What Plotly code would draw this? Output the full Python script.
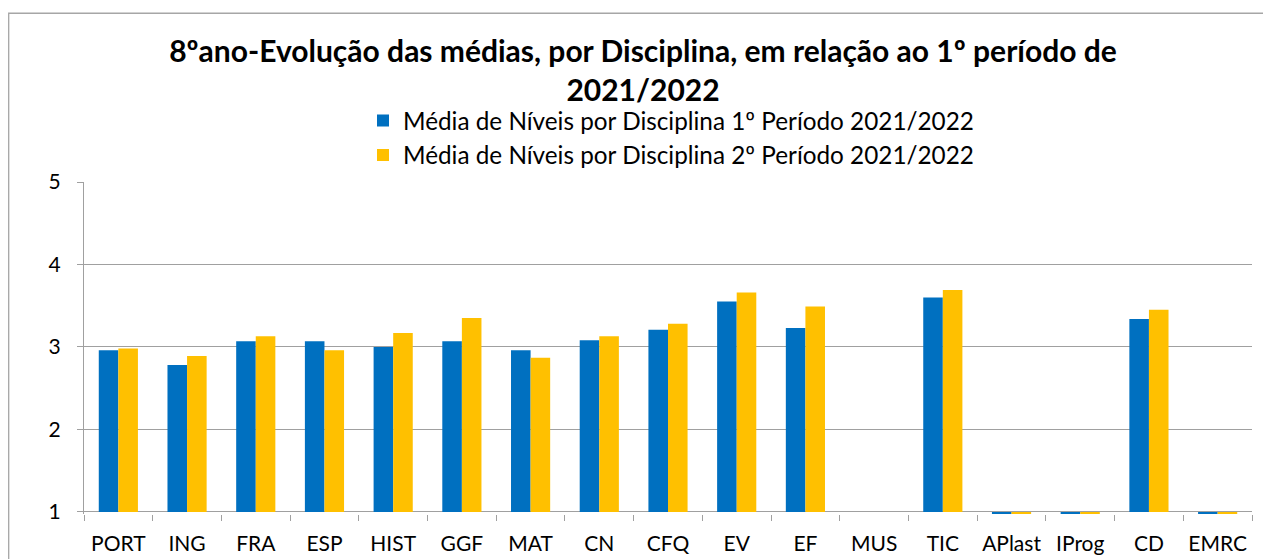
import plotly.graph_objects as go

categories = ["PORT", "ING", "FRA", "ESP", "HIST", "GGF", "MAT", "CN", "CFQ", "EV",
              "EF", "MUS", "TIC", "APlast", "IProg", "CD", "EMRC"]
periodo1 = [2.96, 2.78, 3.07, 3.07, 3.00, 3.07, 2.96, 3.08, 3.21, 3.55,
            3.23, None, 3.60, 0, 0, 3.34, 0]
periodo2 = [2.98, 2.89, 3.13, 2.96, 3.17, 3.35, 2.87, 3.13, 3.28, 3.66,
            3.49, None, 3.69, 0, 0, 3.45, 0]
name1 = "Média de Níveis por Disciplina 1º Período 2021/2022"
name2 = "Média de Níveis por Disciplina 2º Período 2021/2022"
title_text = "8ºano-Evolução das médias, por Disciplina, em relação ao 1º período de<br>2021/2022"

AXIS_BASE = 1  # Excel draws the bars from the horizontal axis crossing at 1


def rel(vals):
    return [None if v is None else v - AXIS_BASE for v in vals]


FONT = "Lato"
W, H = 1263, 551  # page body has an 8px margin
L, T, R, B = 76, 174, 19, 44.5
PW, PH = W - L - R, H - T - B

fig = go.Figure()
fig.add_trace(go.Bar(x=categories, y=rel(periodo1), base=AXIS_BASE, name=name1,
                     marker=dict(color="#0070C0", line=dict(width=0)),
                     customdata=periodo1, hovertemplate="%{x}: %{customdata}<extra></extra>"))
fig.add_trace(go.Bar(x=categories, y=rel(periodo2), base=AXIS_BASE, name=name2,
                     marker=dict(color="#FFC000", line=dict(width=0)),
                     customdata=periodo2, hovertemplate="%{x}: %{customdata}<extra></extra>"))

fig.update_layout(
    width=W, height=H,
    margin=dict(l=L, r=R, t=T, b=B, autoexpand=False),
    paper_bgcolor="white", plot_bgcolor="white",
    font=dict(family=FONT, color="black", size=21),
    barmode="group", bargap=0.43, bargroupgap=0,
    title=dict(text=title_text, x=635 / W, xanchor="center", xref="container",
               y=1 - 54 / H, yanchor="top", automargin=False,
               font=dict(family=FONT, size=30, color="black", weight="bold")),
    legend=dict(orientation="v", x=(355 - L) / PW, xanchor="left",
                y=1 + (T - 90) / PH, yanchor="top",
                font=dict(family=FONT, size=24.3, color="black"),
                bgcolor="rgba(0,0,0,0)", tracegroupgap=0, itemclick=False),
    showlegend=True,
)
fig.update_yaxes(range=[0.975, 5], tickvals=[1, 2, 3, 4, 5], showgrid=True,
                 gridcolor="#A0A0A0", gridwidth=1.3, zeroline=False,
                 showline=True, linecolor="#A0A0A0", linewidth=1.3,
                 ticks="outside", ticklen=6, tickcolor="#A0A0A0", tickwidth=1.3,
                 ticklabelstandoff=12, tickfont=dict(size=21), automargin=False)
fig.update_xaxes(showline=False, ticks="outside", tickson="boundaries", ticklen=6,
                 tickcolor="#A0A0A0", tickwidth=1.3, showgrid=False,
                 ticklabelstandoff=15, tickfont=dict(size=21), automargin=False)

# outer chart border
fig.add_shape(type="rect", xref="paper", yref="paper",
              x0=(0.7 - L) / PW, x1=(W + 20 - L) / PW,
              y0=-0.3, y1=1 + (T - 5) / PH,
              line=dict(color="#A6A6A6", width=1.3), fillcolor="rgba(0,0,0,0)", layer="below")

fig.write_html("out.html")
